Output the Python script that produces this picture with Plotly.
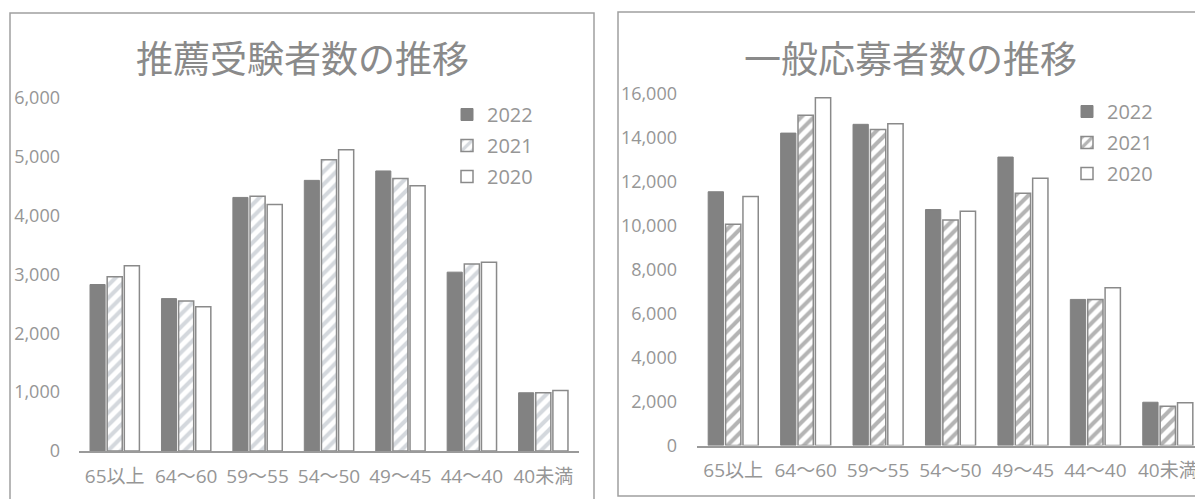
import plotly.graph_objects as go
from plotly.subplots import make_subplots

categories = ["65以上", "64～60", "59～55", "54～50", "49～45", "44～40", "40未満"]
years = ["2022", "2021", "2020"]

# 推薦受験者数
rec_2022 = [2830, 2590, 4310, 4600, 4760, 3040, 990]
rec_2021 = [2960, 2550, 4330, 4950, 4630, 3180, 990]
rec_2020 = [3150, 2450, 4190, 5120, 4510, 3210, 1030]

# 一般応募者数
gen_2022 = [11550, 14220, 14620, 10740, 13130, 6650, 1970]
gen_2021 = [10070, 15030, 14380, 10270, 11480, 6650, 1790]
gen_2020 = [11330, 15830, 14650, 10660, 12160, 7180, 1950]

title_left = "推薦受験者数の推移"
title_right = "一般応募者数の推移"

W, H = 1203, 499
OFF = 8  # page body margin
def px(x):
    return (x - OFF) / W
def py(y):
    return 1 - (y - OFF) / H

FONT = "Open Sans, Noto Sans CJK JP, sans-serif"
TXT = "#969696"
SOLID = "#828282"
EDGE = "#8a8a8a"

fig = make_subplots(rows=1, cols=2)

def add_series(vals, name, col, legend, hatch_color, grp):
    v2022, v2021, v2020 = vals
    fig.add_trace(go.Bar(x=categories, y=v2022, name=name[0], legend=legend, legendgroup=grp + "a",
                         marker=dict(color=SOLID, line=dict(color=SOLID, width=1)),
                         hoverinfo="skip"), row=1, col=col)
    fig.add_trace(go.Bar(x=categories, y=v2021, name=name[1], legend=legend, legendgroup=grp + "b",
                         marker=dict(color="white", line=dict(color=EDGE, width=1.5),
                                     pattern=dict(shape="/", fgcolor=hatch_color, bgcolor="white",
                                                  size=9, solidity=0.45, fillmode="overlay")),
                         hoverinfo="skip"), row=1, col=col)
    fig.add_trace(go.Bar(x=categories, y=v2020, name=name[2], legend=legend, legendgroup=grp + "c",
                         marker=dict(color="white", line=dict(color=EDGE, width=1.5)),
                         hoverinfo="skip"), row=1, col=col)

add_series((rec_2022, rec_2021, rec_2020), years, 1, "legend", "#a9b2bb", "L")
add_series((gen_2022, gen_2021, gen_2020), years, 2, "legend2", "#6a6a6a", "R")

ycommon = dict(showgrid=False, zeroline=False, automargin=False,
               tickfont=dict(family=FONT, size=18, color=TXT))
xcommon = dict(showgrid=False, zeroline=False, automargin=False,
               tickfont=dict(family=FONT, size=19, color=TXT))

fig.update_layout(
    width=W, height=H, autosize=False,
    margin=dict(l=0, r=0, t=0, b=0, pad=0),
    paper_bgcolor="white", plot_bgcolor="white",
    barmode="group", bargap=0.28, bargroupgap=0.12,
    font=dict(family=FONT, color=TXT),
    xaxis=dict(domain=[px(79), px(579)], range=[-0.5, 6.5], showline=True, linecolor="#9a9a9a",
               linewidth=1.5, ticks="", ticklabelstandoff=7, **xcommon),
    yaxis=dict(domain=[py(451), py(98)], range=[0, 6000], dtick=1000, tickformat=",",
               showline=False, ticks="", ticklabelstandoff=18, **ycommon),
    xaxis2=dict(domain=[px(697), px(1204)], range=[-0.5, 6.5], showline=True, linecolor="#9a9a9a",
                linewidth=1.5, ticks="", ticklabelstandoff=7, **xcommon),
    yaxis2=dict(domain=[py(445.5), py(94)], range=[0, 16000], dtick=2000, tickformat=",",
                showline=False, ticks="", ticklabelstandoff=19, **ycommon),
    legend=dict(x=px(447), y=py(95), xanchor="left", yanchor="top",
                font=dict(family=FONT, size=20, color=TXT), bgcolor="rgba(0,0,0,0)",
                traceorder="grouped", tracegroupgap=2),
    legend2=dict(x=px(1067), y=py(92), xanchor="left", yanchor="top",
                 font=dict(family=FONT, size=20, color=TXT), bgcolor="rgba(0,0,0,0)",
                 traceorder="grouped", tracegroupgap=2),
    showlegend=True,
)

fig.add_annotation(text=title_left, x=px(302), y=py(57), xref="paper", yref="paper",
                   xanchor="center", yanchor="middle",
                   showarrow=False, font=dict(family="Noto Sans CJK JP", size=37, color="#8a8a8a"))
fig.add_annotation(text=title_right, x=px(910), y=py(57), xref="paper", yref="paper",
                   xanchor="center", yanchor="middle",
                   showarrow=False, font=dict(family="Noto Sans CJK JP", size=37, color="#8a8a8a"))

# chart frames
fig.add_shape(type="rect", xref="paper", yref="paper", x0=px(10), x1=px(594), y0=py(515), y1=py(13),
              line=dict(color="#a0a0a0", width=1.5), fillcolor="rgba(0,0,0,0)", layer="below")
fig.add_shape(type="rect", xref="paper", yref="paper", x0=px(618), x1=px(1215), y0=py(496), y1=py(12),
              line=dict(color="#a0a0a0", width=1.5), fillcolor="rgba(0,0,0,0)", layer="below")

fig.write_html("out.html")
